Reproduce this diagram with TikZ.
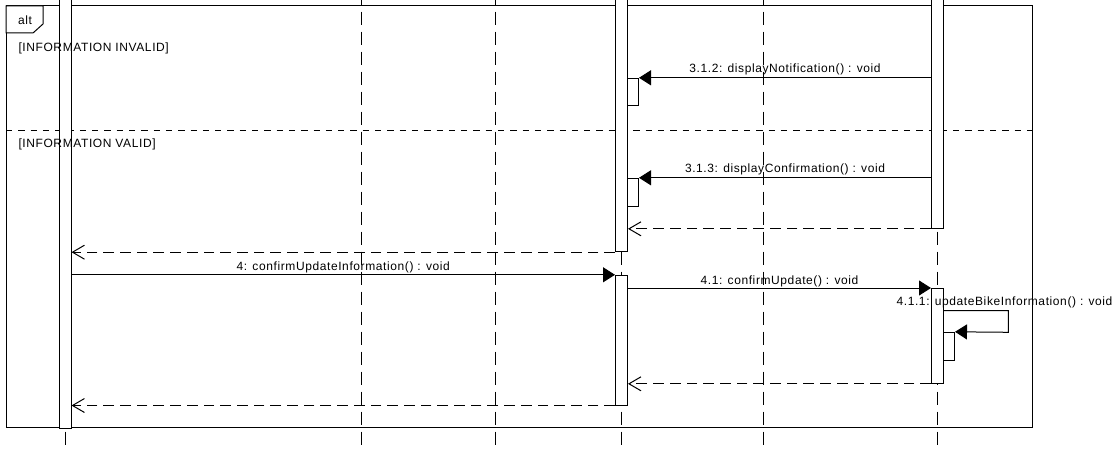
\documentclass[tikz,border=0pt]{standalone}
\usepackage{fontspec}
\setmainfont{Liberation Sans}[LetterSpace=5]
\usetikzlibrary{arrows.meta}
\begin{document}
\begin{tikzpicture}[x=1pt,y=-1pt,line width=1pt,
  lifeline/.style={dash pattern=on 13.3pt off 6.7pt},
  act/.style={draw,fill=white,minimum width=12pt,inner sep=0pt,line width=1pt},
  sact/.style={draw,fill=white,minimum width=11pt,inner sep=0pt,line width=1pt},
  call/.style={-{Triangle[length=12pt,width=15pt]}},
  ret/.style={dash pattern=on 10.7pt off 6pt,-{Straight Barb[length=12pt,width=14pt,line width=1pt]}},
  lbl/.style={font=\fontsize{12}{14}\selectfont,inner sep=0pt,anchor=base},
  every node/.style={font=\fontsize{12}{14}\selectfont}]
\clip (0,0) rectangle (1117,476);
\fill[white] (0,0) rectangle (1117,476);
% lifelines
\foreach \n/\x in {l1/65,l2/361,l3/495,l4/621,l5/763,l6/937}{
  \coordinate (\n top) at (\x,-8.3);
  \coordinate (\n bot) at (\x,445);
  \draw[lifeline] (\n top) -- (\n bot);
}
% frame
\node[draw,minimum width=1026pt,minimum height=421pt,inner sep=0pt] (frame) at (519,216.5) {};
\draw[fill=white] (6,6) -- (43,6) -- (43,24) -- (33,33) -- (6,33) -- cycle;
\node (alt) at (25,20) {alt};
\coordinate (divL) at (6,130.7);
\coordinate (divR) at (1032,130.7);
\draw[dash pattern=on 6.3pt off 6pt] (divL) -- (divR);
% activations
\node[act,minimum height=448.3pt] (a1) at (65,204.15) {};
\node[act,minimum height=271.7pt] (a4a) at (621.5,115.85) {};
\node[act,minimum height=248.3pt] (a6a) at (937.5,104.15) {};
\node[act,minimum height=129.7pt] (a4b) at (621.5,340.15) {};
\node[act,minimum height=94.8pt] (a6b) at (937.5,335.9) {};
\node[sact,minimum height=27.7pt] (s1) at (633,92.15) {};
\node[sact,minimum height=27.7pt] (s2) at (633,192.15) {};
\node[sact,minimum height=27.7pt] (s3) at (949,346.15) {};
% guards
\node[lbl,anchor=base west] (g1) at (18,51.5) {[INFORMATION INVALID]};
\node[lbl,anchor=base west] (g2) at (18,147.5) {[INFORMATION VALID]};
% messages
\draw[call] (a6a.west |- s1.north) -- node[lbl,above=5pt,anchor=base] (m1) {3.1.2: displayNotification() : void} (s1.north east);
\draw[call] (a6a.west |- s2.north) -- node[lbl,above=5pt,anchor=base] (m2) {3.1.3: displayConfirmation() : void} (s2.north east);
\draw[ret] (a6a.south west) -- (a6a.south west -| a4a.east);
\draw[ret] (a4a.south west) -- (a4a.south west -| a1.east);
\draw[call] (a1.east |- a4b.north) -- node[lbl,above=4pt,anchor=base] (m4) {4: confirmUpdateInformation() : void} (a4b.north west);
\draw[call] (a4b.east |- a6b.north) -- node[lbl,above=4pt,anchor=base] (m41) {4.1: confirmUpdate() : void} (a6b.north west);
\coordinate (sc1) at (1008.3,310.7);
\coordinate (sc2) at (1008.3,332.3);
\draw[call] (a6b.east |- sc1) -- (sc1) -- (sc2) -- (s3.north east);
\node[lbl] (m411) at (1004.5,305) {4.1.1: updateBikeInformation() : void};
\draw[ret] (a6b.south west) -- (a6b.south west -| a4b.east);
\draw[ret] (a4b.south west) -- (a4b.south west -| a1.east);
\end{tikzpicture}
\end{document}
